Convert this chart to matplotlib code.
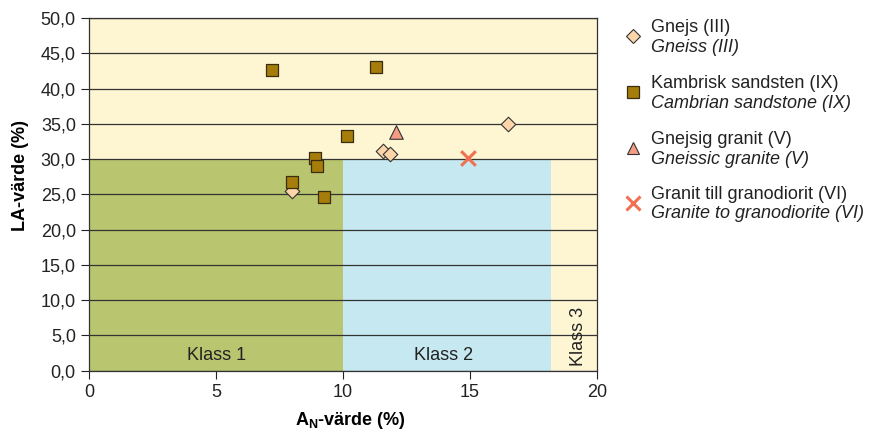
import matplotlib.pyplot as plt
from matplotlib.lines import Line2D

plt.rcParams['font.family'] = ['Liberation Sans', 'DejaVu Sans']
plt.rcParams['mathtext.fontset'] = 'custom'
plt.rcParams['mathtext.rm'] = 'Liberation Sans'
plt.rcParams['mathtext.bf'] = 'Liberation Sans:bold'

# Data
gneiss_x = [8.0, 11.56, 11.84, 16.5]
gneiss_y = [25.5, 31.2, 30.8, 35.0]

sand_x = [7.2, 11.3, 10.17, 8.9, 8.98, 7.97, 9.24]
sand_y = [42.7, 43.0, 33.3, 30.2, 29.0, 26.7, 24.7]

ggran_x = [12.1]
ggran_y = [33.9]

gran_x = [14.9]
gran_y = [30.2]

# class limits (A_N, LA)
klass1_an = 10.0
klass2_an = 18.2
klass_la = 30.0

yticks = [0, 5, 10, 15, 20, 25, 30, 35, 40, 45, 50]
xticks = [0, 5, 10, 15, 20]

fig = plt.figure(figsize=(8.73, 4.32), dpi=100)
ax = fig.add_axes([0.102, 0.142, 0.582, 0.816])

ax.set_facecolor('#fef5d3')
ax.fill_between([0, klass1_an], 0, klass_la, color='#b9c66f', zorder=0.5, lw=0)
ax.fill_between([klass1_an, klass2_an], 0, klass_la, color='#c6e8f0', zorder=0.5, lw=0)

for y in yticks:
    ax.axhline(y, color='#333333', lw=0.9, zorder=1)

ax.text(5, 0.9, 'Klass 1', ha='center', va='bottom', fontsize=13, color='#222222', zorder=2)
ax.text(13.95, 0.9, 'Klass 2', ha='center', va='bottom', fontsize=13, color='#222222', zorder=2)
ax.text(19.25, 0.7, 'Klass 3', ha='center', va='bottom', rotation=90, fontsize=13,
        color='#222222', zorder=2)

ax.scatter(gneiss_x, gneiss_y, marker='D', s=55, facecolor='#fdd5a8', edgecolor='#333333',
           lw=0.8, zorder=3)
ax.scatter(sand_x, sand_y, marker='s', s=75, facecolor='#a67c0a', edgecolor='#3a2e10',
           lw=0.9, zorder=4)
ax.scatter(ggran_x, ggran_y, marker='^', s=95, facecolor='#f59c84', edgecolor='#333333',
           lw=0.8, zorder=4)
ax.scatter(gran_x, gran_y, marker='x', s=110, color='#f07050', lw=2.2, zorder=4)

ax.set_xlim(0, 20)
ax.set_ylim(0, 50)
ax.set_xticks(xticks)
ax.set_yticks(yticks)
ax.set_yticklabels([f'{v:.1f}'.replace('.', ',') for v in yticks])
ax.tick_params(direction='out', length=6, width=0.8, labelsize=13, colors='#222222')
for s in ax.spines.values():
    s.set_color('#333333')
    s.set_linewidth(0.9)

ax.set_xlabel(r'$\mathbf{A_N}$-värde (%)', fontsize=13, fontweight='bold')
ax.xaxis.set_label_coords(0.515, -0.113)
ax.set_ylabel('LA-värde (%)', fontsize=13, fontweight='bold')
ax.yaxis.set_label_coords(-0.118, 0.555)

# legend, drawn by hand (two lines per entry, second in italics)
legend = [
    ('Gnejs (III)', 'Gneiss (III)', dict(marker='D', markersize=7, markerfacecolor='#fdd5a8',
                                          markeredgecolor='#333333', markeredgewidth=0.8)),
    ('Kambrisk sandsten (IX)', 'Cambrian sandstone (IX)',
     dict(marker='s', markersize=8, markerfacecolor='#a67c0a', markeredgecolor='#3a2e10',
          markeredgewidth=0.9)),
    ('Gnejsig granit (V)', 'Gneissic granite (V)',
     dict(marker='^', markersize=9, markerfacecolor='#f59c84', markeredgecolor='#333333',
          markeredgewidth=0.8)),
    ('Granit till granodiorit (VI)', 'Granite to granodiorite (VI)',
     dict(marker='x', markersize=10, color='#f07050', markeredgewidth=2.2)),
]
W, H = 873, 432
top_px = [28, 84, 140, 195]
for (sv, en, style), ty in zip(legend, top_px):
    fig.text(651 / W, 1 - ty / H, sv, fontsize=13, va='center', ha='left', color='#222222')
    fig.text(651 / W, 1 - (ty + 19) / H, en, fontsize=13, va='center', ha='left',
             style='italic', color='#222222')
    my = 1 - (ty + 8) / H
    fig.add_artist(Line2D([633 / W], [my], linestyle='none', transform=fig.transFigure, **style))

fig.savefig('out.png', dpi=100)
